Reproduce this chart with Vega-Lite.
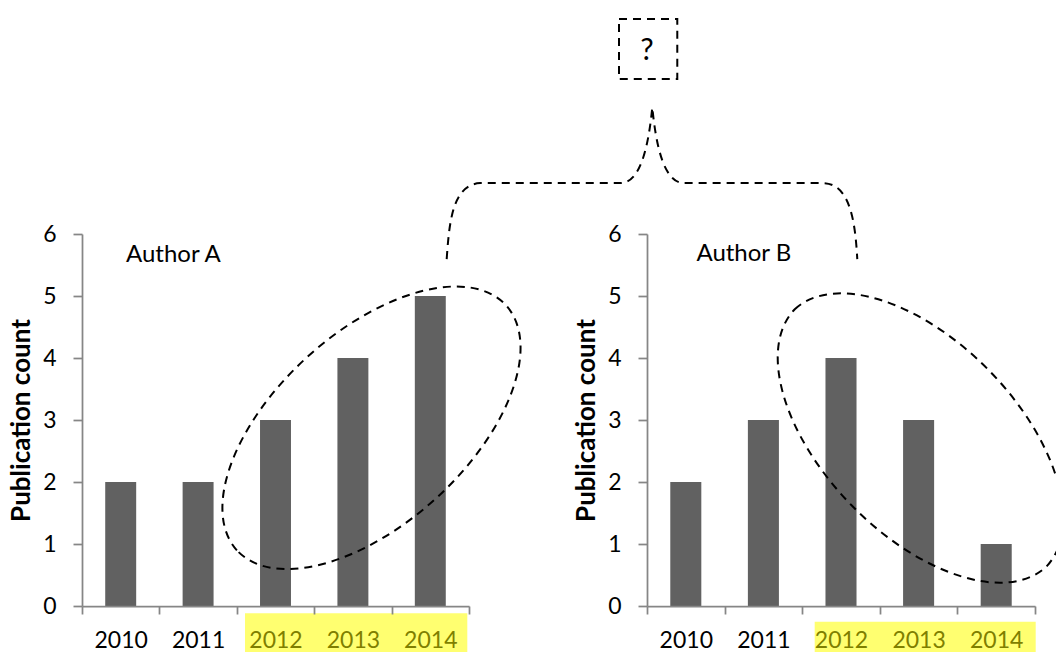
{
  "$schema": "https://vega.github.io/schema/vega-lite/v6.json",
  "background": "white",
  "padding": {"top": 17, "left": 8, "right": 0, "bottom": 0},
  "bounds": "flush",
  "spacing": 178,
  "config": {"view": {"stroke": null}, "font": "Lato"},
  "hconcat": [
    {
      "width": 387,
      "height": 372,
      "layer": [
        {
          "data": {"values": [
            {"year": 2010, "count": 2},
            {"year": 2011, "count": 2},
            {"year": 2012, "count": 3},
            {"year": 2013, "count": 4},
            {"year": 2014, "count": 5}
          ]},
          "mark": {"type": "bar", "color": "#616161", "width": {"band": 0.4}},
          "encoding": {
            "x": {"field": "year", "type": "ordinal", "scale": {"paddingInner": 0, "paddingOuter": 0},
              "axis": {"title": null, "labelAngle": 0, "tickBand": "extent", "grid": false, "domainColor": "#868686", "domainWidth": 1.75, "tickColor": "#868686", "tickWidth": 1.75, "tickSize": 8, "labelFont": "Lato", "labelFontSize": 23, "labelPadding": 15, "zindex": 1,
                "labelColor": {"condition": {"test": "datum.value >= 2012", "value": "#7F7F00"}, "value": "black"}}},
            "y": {"field": "count", "type": "quantitative", "scale": {"domain": [0, 6], "nice": false},
              "axis": {"title": "Publication count", "values": [0, 1, 2, 3, 4, 5, 6], "grid": false, "domainColor": "#868686", "domainWidth": 1.75, "tickColor": "#868686", "tickWidth": 1.75, "tickSize": 9, "labelFont": "Lato", "labelFontSize": 23, "labelColor": "black", "labelPadding": 17, "titleFont": "Lato", "titleFontSize": 26, "titleFontWeight": "bold", "titleColor": "black", "titlePadding": 8}}
          }
        },
        {
          "encoding": {
            "x": {"field": "ax", "type": "quantitative", "scale": {"domain": [0, 5], "nice": false, "zero": false}, "axis": null},
            "y": {"field": "ay", "type": "quantitative", "scale": {"domain": [0, 6], "nice": false, "zero": false}, "axis": null}
          },
          "layer": [
            {
              "data": {"values": [{"ax": 2.106, "ax2": 4.978, "ay": -0.118, "ay2": -0.74}]},
              "mark": {"type": "rect", "color": "#FFFF70"},
              "encoding": {"x2": {"field": "ax2"}, "y2": {"field": "ay2"}}
            },
            {
              "data": {"values": [{"ax": 6.938, "ax2": 7.691, "ay": 8.498, "ay2": 9.469}]},
              "mark": {"type": "rect", "filled": false, "color": "black", "strokeWidth": 2, "strokeDash": [8, 6]},
              "encoding": {"x2": {"field": "ax2"}, "y2": {"field": "ay2"}}
            },
            {
              "data": {"values": [{"ax": 3.74, "ay": 2.874}]},
              "mark": {"type": "point", "shape": "M -134.6 122.5 A 182 96 -42.3 0 1 134.6 -122.5 A 182 96 -42.3 0 1 -134.6 122.5 Z", "size": 4, "filled": false, "stroke": "black", "strokeWidth": 2, "strokeDash": [8, 6], "opacity": 1}
            },
            {
              "data": {"values": [{"ax": 7.368, "ay": 8.04}]},
              "mark": {"type": "point", "shape": "M -205.6 151.6 C -203 115 -200 77 -172 75.6 L -32 75.6 C -12 75.6 -4 40 0 0 C 4 40 12 75.6 32 75.6 L 172 75.6 C 198 77 203 115 205 151.6", "size": 4, "filled": false, "stroke": "black", "strokeWidth": 2, "strokeDash": [8, 6], "opacity": 1}
            },
            {
              "data": {"values": [{"ax": 0.568, "ay": 5.544, "label": "Author A"}]},
              "mark": {"type": "text", "align": "left", "baseline": "alphabetic", "font": "Lato", "fontSize": 24, "color": "black"},
              "encoding": {"text": {"field": "label"}}
            },
            {
              "data": {"values": [{"ax": 7.3, "ay": 8.81, "label": "?"}]},
              "mark": {"type": "text", "align": "center", "baseline": "alphabetic", "font": "Lato", "fontSize": 30, "color": "black"},
              "encoding": {"text": {"field": "label"}}
            }
          ]
        }
      ],
      "resolve": {"scale": {"x": "independent", "y": "independent"}}
    },
    {
      "width": 388,
      "height": 372,
      "layer": [
        {
          "data": {"values": [
            {"year": 2010, "count": 2},
            {"year": 2011, "count": 3},
            {"year": 2012, "count": 4},
            {"year": 2013, "count": 3},
            {"year": 2014, "count": 1}
          ]},
          "mark": {"type": "bar", "color": "#616161", "width": {"band": 0.4}},
          "encoding": {
            "x": {"field": "year", "type": "ordinal", "scale": {"paddingInner": 0, "paddingOuter": 0},
              "axis": {"title": null, "labelAngle": 0, "tickBand": "extent", "grid": false, "domainColor": "#868686", "domainWidth": 1.75, "tickColor": "#868686", "tickWidth": 1.75, "tickSize": 8, "labelFont": "Lato", "labelFontSize": 23, "labelPadding": 15, "zindex": 1,
                "labelColor": {"condition": {"test": "datum.value >= 2012", "value": "#7F7F00"}, "value": "black"}}},
            "y": {"field": "count", "type": "quantitative", "scale": {"domain": [0, 6], "nice": false},
              "axis": {"title": "Publication count", "values": [0, 1, 2, 3, 4, 5, 6], "grid": false, "domainColor": "#868686", "domainWidth": 1.75, "tickColor": "#868686", "tickWidth": 1.75, "tickSize": 9, "labelFont": "Lato", "labelFontSize": 23, "labelColor": "black", "labelPadding": 17, "titleFont": "Lato", "titleFontSize": 26, "titleFontWeight": "bold", "titleColor": "black", "titlePadding": 8}}
          }
        },
        {
          "encoding": {
            "x": {"field": "ax", "type": "quantitative", "scale": {"domain": [0, 5], "nice": false, "zero": false}, "axis": null},
            "y": {"field": "ay", "type": "quantitative", "scale": {"domain": [0, 6], "nice": false, "zero": false}, "axis": null}
          },
          "layer": [
            {
              "data": {"values": [{"ax": 2.161, "ax2": 5.009, "ay": -0.253, "ay2": -0.74}]},
              "mark": {"type": "rect", "color": "#FFFF70"},
              "encoding": {"x2": {"field": "ax2"}, "y2": {"field": "ay2"}}
            },
            {
              "data": {"values": [{"ax": 3.524, "ay": 2.709}]},
              "mark": {"type": "point", "shape": "M -125.7 -128.8 A 180 98 45.7 0 1 125.7 128.8 A 180 98 45.7 0 1 -125.7 -128.8 Z", "size": 4, "filled": false, "stroke": "black", "strokeWidth": 2, "strokeDash": [8, 6], "opacity": 1}
            },
            {
              "data": {"values": [{"ax": 0.637, "ay": 5.56, "label": "Author B"}]},
              "mark": {"type": "text", "align": "left", "baseline": "alphabetic", "font": "Lato", "fontSize": 24, "color": "black"},
              "encoding": {"text": {"field": "label"}}
            }
          ]
        }
      ],
      "resolve": {"scale": {"x": "independent", "y": "independent"}}
    }
  ]
}
